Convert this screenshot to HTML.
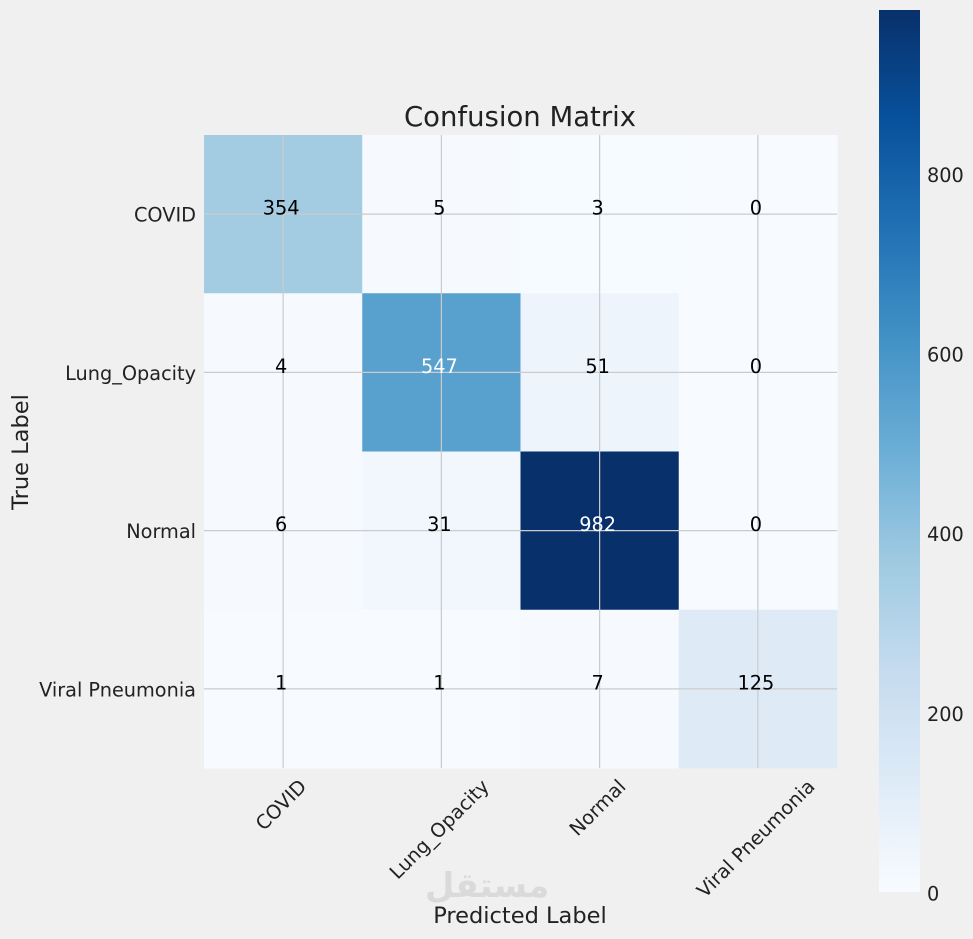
<!DOCTYPE html>
<html><head><meta charset="utf-8"><style>
html,body{margin:0;padding:0;background:#f0f0f0;}
svg{display:block;font-family:"DejaVu Sans","Liberation Sans",sans-serif;}
</style></head><body>
<svg id="c" width="973" height="939"></svg>
<script>
const classes=["COVID","Lung_Opacity","Normal","Viral Pneumonia"];
const matrix=[[354,5,3,0],[4,547,51,0],[6,31,982,0],[1,1,7,125]];
const cbTicks=[0,200,400,600,800];
const NS="http://www.w3.org/2000/svg";
const svg=document.getElementById('c');
function el(t,a,p){const e=document.createElementNS(NS,t);for(const k in a)e.setAttribute(k,a[k]);(p||svg).appendChild(e);return e;}
const X0=204,Y0=135,CW=158.25;
const vmax=Math.max(...matrix.flat());
const stops=["#f7fbff","#deebf7","#c6dbef","#9ecae1","#6baed6","#4292c6","#2171b5","#08519c","#08306b"];
function hex(h){return [1,3,5].map(i=>parseInt(h.substr(i,2),16));}
function cmap(t){t=Math.max(0,Math.min(1,t));const f=t*8,i=Math.min(7,Math.floor(f)),r=f-i;const a=hex(stops[i]),b=hex(stops[i+1]);return 'rgb('+a.map((v,k)=>Math.round(v+(b[k]-v)*r)).join(',')+')';}
const xs=j=>X0+CW*j+CW/2, ys=i=>Y0+CW*i+CW/2;
const FS=19.3;
const g=el('g',{});
matrix.forEach((row,i)=>row.forEach((v,j)=>{const r=el('rect',{x:X0+CW*j,y:Y0+CW*i,width:CW+0.5,height:CW+0.5,fill:cmap(v/vmax)},g);

}));
for(let k=0;k<4;k++){
const l1=el('line',{x1:xs(k),x2:xs(k),y1:Y0,y2:Y0+4*CW,stroke:'#cbcbcb','stroke-width':1.2});


const l2=el('line',{x1:X0,x2:X0+4*CW,y1:ys(k),y2:ys(k),stroke:'#cbcbcb','stroke-width':1.2});

}
matrix.forEach((row,i)=>row.forEach((v,j)=>{const t=el('text',{x:xs(j)-2,y:ys(i)-6,'text-anchor':'middle','dominant-baseline':'central','font-size':FS,fill:v>vmax/2?'#fff':'#000'},svg);t.textContent=v;

}));
classes.forEach((c,i)=>{const t=el('text',{x:196,y:ys(i)+1,'text-anchor':'end','dominant-baseline':'central','font-size':FS,fill:'#222'});t.textContent=c;


const u=el('text',{'text-anchor':'middle','dominant-baseline':'central','font-size':FS,fill:'#222'});u.textContent=c;


const w=u.getComputedTextLength(),d=(w*0.707+20*0.707)/2;const cx=xs(i)-2,cy=776+d;
u.setAttribute('x',cx);u.setAttribute('y',cy);u.setAttribute('transform','rotate(-45 '+cx+' '+cy+')');});
let t=el('text',{x:520,y:126,'text-anchor':'middle','font-size':27.5,fill:'#222'});t.textContent='Confusion Matrix';

t=el('text',{x:520,y:923,'text-anchor':'middle','font-size':22.5,fill:'#222'});t.textContent='Predicted Label';

t=el('text',{x:28,y:452,'text-anchor':'middle','font-size':22.5,fill:'#222',transform:'rotate(-90 28 452)'});t.textContent='True Label';

t=el('text',{x:487,y:897,'text-anchor':'middle','font-size':34,'font-weight':'bold',fill:'#dadada'});t.textContent='مستقل';

// colorbar
const CB0=10,CB1=892,CBX=879,CBW=41;
const cs=v=>CB1-(v/vmax)*(CB1-CB0);
const defs=el('defs',{});const lg=el('linearGradient',{id:'gr',x1:0,y1:1,x2:0,y2:0},defs);
for(let k=0;k<=16;k++)el('stop',{offset:k/16,'stop-color':cmap(k/16)},lg);
const cb=el('rect',{x:CBX,y:CB0,width:CBW,height:CB1-CB0,fill:'url(#gr)'});

cbTicks.forEach(v=>{const tt=el('text',{x:927,y:cs(v)+2,'dominant-baseline':'central','font-size':FS,fill:'#222'});tt.textContent=v;

});
</script>
</body></html>
